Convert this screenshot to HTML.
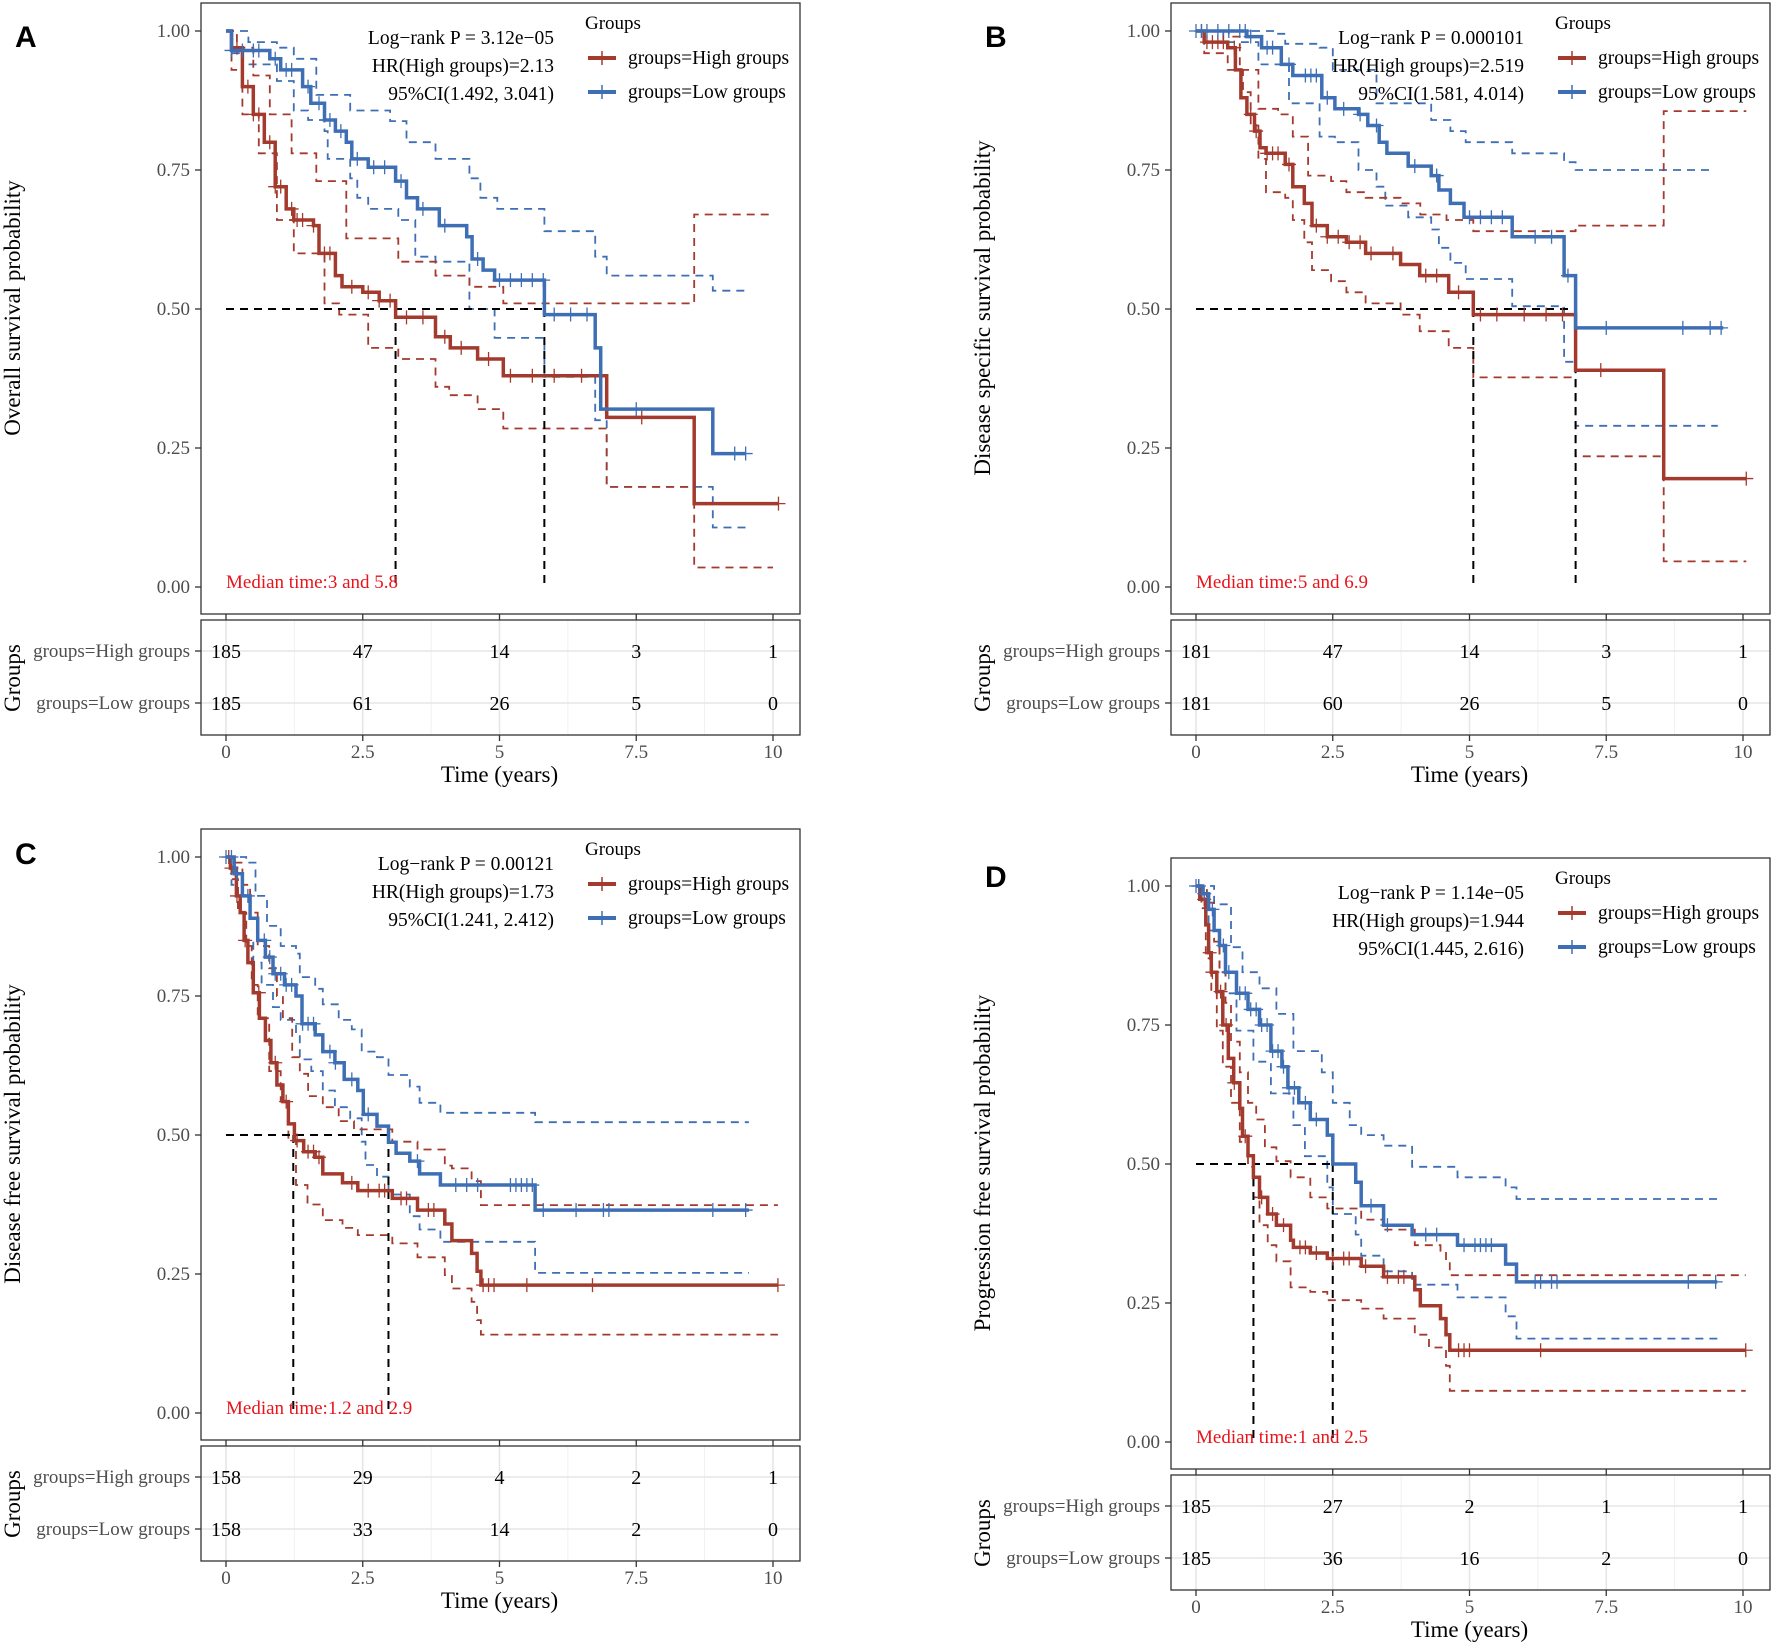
<!DOCTYPE html>
<html><head><meta charset="utf-8"><style>
html,body{margin:0;padding:0;background:#fff;}
svg{display:block;font-family:"Liberation Serif",serif;}
</style></head><body>
<svg id="fig" width="1772" height="1643" viewBox="0 0 1772 1643" xmlns="http://www.w3.org/2000/svg"></svg>
<script>
// ---------- DATA ----------
const xTicks = [0, 2.5, 5, 7.5, 10];
const xTickLabels = ["0", "2.5", "5", "7.5", "10"];
const yTicks = [0, 0.25, 0.5, 0.75, 1];
const yTickLabels = ["0.00", "0.25", "0.50", "0.75", "1.00"];

// Panel A
const aHigh = [[0,1],[0.1,0.97],[0.3,0.9],[0.5,0.85],[0.7,0.8],[0.9,0.72],[1.1,0.68],[1.24,0.66],[1.6,0.65],[1.7,0.6],[2.0,0.56],[2.12,0.54],[2.5,0.53],[2.8,0.515],[3.1,0.485],[3.83,0.45],[4.1,0.43],[4.6,0.41],[5.07,0.38],[6.96,0.305],[8.56,0.15],[10.1,0.15]];
const aHighUp = [[0,1],[0.2,0.97],[0.5,0.92],[0.8,0.85],[1.2,0.78],[1.65,0.73],[2.2,0.627],[3.15,0.585],[3.83,0.56],[4.45,0.54],[5.07,0.51],[8.56,0.67],[10,0.67]];
const aHighLo = [[0,1],[0.1,0.93],[0.3,0.85],[0.6,0.78],[0.93,0.66],[1.24,0.6],[1.8,0.51],[2.07,0.49],[2.6,0.43],[3.15,0.41],[3.83,0.36],[4.08,0.345],[4.6,0.32],[5.07,0.285],[6.96,0.18],[8.56,0.035],[10,0.035]];
const aLow = [[0,1],[0.1,0.965],[0.8,0.95],[1.0,0.93],[1.4,0.9],[1.55,0.87],[1.8,0.84],[2.0,0.82],[2.2,0.8],[2.3,0.77],[2.6,0.755],[3.1,0.73],[3.3,0.7],[3.5,0.68],[3.9,0.65],[4.4,0.63],[4.5,0.59],[4.7,0.57],[4.91,0.552],[5.82,0.49],[6.75,0.43],[6.85,0.32],[8.9,0.24],[9.5,0.24]];
const aLowUp = [[0,1],[0.41,0.98],[0.93,0.97],[1.24,0.95],[1.65,0.885],[2.27,0.857],[3.0,0.838],[3.3,0.8],[3.83,0.77],[4.45,0.735],[4.65,0.7],[4.96,0.68],[5.82,0.64],[6.75,0.594],[6.96,0.56],[8.9,0.533],[9.5,0.533]];
const aLowLo = [[0,1],[0.1,0.96],[0.3,0.94],[0.93,0.91],[1.24,0.857],[1.5,0.84],[1.8,0.82],[1.86,0.77],[2.27,0.735],[2.4,0.7],[2.6,0.68],[3.15,0.66],[3.46,0.594],[3.83,0.585],[4.45,0.5],[4.91,0.448],[5.82,0.378],[6.75,0.3],[6.96,0.18],[8.9,0.107],[9.5,0.107]];
const aHighCens = [0.2,0.4,0.5,0.6,0.8,0.9,1.0,1.2,1.3,1.4,1.6,1.8,1.9,2.3,2.6,2.8,3.0,3.3,3.6,4.0,4.3,4.8,5.2,5.6,6.0,6.5,7.6,10.1];
const aLowCens = [0.1,0.3,0.5,0.6,0.9,1.1,1.2,1.5,1.7,1.9,2.1,2.4,2.7,2.9,3.2,3.6,4.0,4.6,5.0,5.2,5.4,5.6,5.8,6.0,6.3,6.6,7.5,9.3,9.5];
const aHighRisk = [185,47,14,3,1];
const aLowRisk = [185,61,26,5,0];
const aMedians = [3.1, 5.82];

// Panel B
const bHigh = [[0,1],[0.15,0.98],[0.58,0.97],[0.72,0.93],[0.82,0.88],[0.93,0.85],[1.07,0.82],[1.17,0.79],[1.28,0.78],[1.63,0.76],[1.77,0.72],[1.98,0.69],[2.12,0.65],[2.4,0.63],[2.75,0.62],[3.1,0.6],[3.74,0.58],[4.09,0.56],[4.62,0.53],[5.07,0.49],[6.94,0.39],[8.55,0.195],[10.06,0.195]];
const bHighUp = [[0,1],[0.6,0.99],[0.8,0.93],[1.14,0.86],[1.5,0.85],[1.77,0.81],[2.05,0.74],[2.47,0.73],[2.75,0.71],[3.1,0.7],[3.74,0.69],[4.1,0.67],[4.58,0.66],[5.07,0.64],[6.94,0.65],[8.55,0.856],[10.06,0.856]];
const bHighLo = [[0,1],[0.15,0.96],[0.58,0.93],[0.86,0.89],[1.0,0.83],[1.14,0.77],[1.28,0.71],[1.63,0.7],[1.77,0.66],[1.98,0.62],[2.12,0.57],[2.47,0.55],[2.75,0.53],[3.1,0.51],[3.74,0.49],[4.09,0.46],[4.62,0.43],[5.07,0.377],[6.94,0.235],[8.55,0.046],[10.06,0.046]];
const bLow = [[0,1],[0.93,0.99],[1.2,0.97],[1.56,0.94],[1.77,0.92],[2.3,0.88],[2.54,0.86],[2.97,0.85],[3.14,0.83],[3.35,0.8],[3.49,0.78],[3.88,0.757],[4.3,0.74],[4.44,0.714],[4.65,0.69],[4.9,0.665],[5.78,0.63],[6.73,0.56],[6.94,0.466],[9.64,0.466]];
const bLowUp = [[0,1],[1.5,0.995],[1.63,0.977],[2.26,0.97],[2.5,0.93],[3.3,0.87],[4.3,0.84],[4.65,0.82],[4.93,0.8],[5.78,0.78],[6.73,0.764],[6.94,0.75],[9.43,0.75]];
const bLowLo = [[0,1],[0.5,0.98],[1.14,0.94],[1.7,0.87],[2.26,0.81],[2.54,0.8],[2.97,0.75],[3.3,0.72],[3.46,0.686],[3.88,0.665],[4.3,0.643],[4.44,0.61],[4.65,0.583],[4.93,0.554],[5.78,0.505],[6.73,0.405],[6.94,0.29],[9.54,0.29]];
const bHighCens = [0.1,0.2,0.3,0.4,0.5,0.7,1.0,1.1,1.3,1.4,1.5,1.7,2.2,2.4,2.6,2.8,3.0,3.2,3.6,4.2,4.4,4.8,5.2,5.5,6.0,6.4,6.7,7.4,10.06];
const bLowCens = [0.0,0.1,0.2,0.4,0.6,0.8,0.9,1.0,1.3,1.4,1.7,2.0,2.1,2.2,2.4,2.7,3.0,3.3,4.0,4.4,5.0,5.2,5.4,5.6,6.2,6.5,6.8,7.5,8.9,9.4,9.6];
const bHighRisk = [181,47,14,3,1];
const bLowRisk = [181,60,26,5,0];
const bMedians = [5.07, 6.94];

// Panel C
const cHigh = [[0,1],[0.08,0.98],[0.19,0.93],[0.26,0.9],[0.33,0.85],[0.4,0.81],[0.5,0.756],[0.61,0.71],[0.72,0.67],[0.82,0.63],[0.93,0.59],[1.04,0.56],[1.14,0.52],[1.25,0.49],[1.42,0.47],[1.63,0.46],[1.77,0.43],[2.13,0.414],[2.41,0.4],[3.04,0.386],[3.5,0.365],[4.0,0.34],[4.13,0.31],[4.49,0.287],[4.59,0.255],[4.66,0.23],[10.09,0.23]];
const cHighUp = [[0,1],[0.15,0.99],[0.3,0.95],[0.44,0.9],[0.58,0.84],[0.79,0.8],[0.93,0.75],[1.04,0.71],[1.21,0.64],[1.35,0.61],[1.5,0.57],[1.77,0.55],[2.06,0.525],[2.34,0.51],[3.04,0.488],[3.5,0.474],[4.0,0.445],[4.13,0.44],[4.49,0.417],[4.66,0.374],[10.09,0.374]];
const cHighLo = [[0,1],[0.1,0.96],[0.22,0.9],[0.37,0.84],[0.47,0.77],[0.58,0.71],[0.79,0.615],[1.0,0.56],[1.14,0.49],[1.28,0.41],[1.49,0.375],[1.77,0.347],[2.13,0.333],[2.41,0.32],[3.04,0.305],[3.5,0.28],[4.0,0.248],[4.13,0.224],[4.49,0.2],[4.59,0.167],[4.66,0.141],[10.09,0.141]];
const cLow = [[0,1],[0.15,0.97],[0.3,0.93],[0.44,0.89],[0.58,0.85],[0.72,0.82],[0.86,0.79],[1.07,0.77],[1.28,0.75],[1.39,0.7],[1.63,0.68],[1.77,0.65],[1.99,0.63],[2.16,0.6],[2.41,0.58],[2.51,0.537],[2.76,0.516],[2.97,0.487],[3.11,0.467],[3.36,0.453],[3.54,0.43],[3.92,0.41],[5.65,0.365],[9.56,0.365]];
const cLowUp = [[0,1],[0.37,0.99],[0.54,0.93],[0.75,0.876],[1.0,0.84],[1.28,0.826],[1.35,0.784],[1.63,0.763],[1.77,0.735],[2.06,0.707],[2.3,0.69],[2.48,0.65],[2.76,0.64],[2.97,0.608],[3.36,0.587],[3.54,0.558],[3.92,0.54],[5.65,0.523],[9.56,0.523]];
const cLowLo = [[0,1],[0.1,0.95],[0.22,0.9],[0.37,0.85],[0.5,0.81],[0.65,0.77],[0.86,0.73],[1.0,0.707],[1.28,0.68],[1.35,0.636],[1.56,0.615],[1.77,0.58],[1.99,0.55],[2.27,0.53],[2.48,0.488],[2.55,0.446],[2.76,0.425],[2.97,0.393],[3.36,0.354],[3.54,0.33],[3.92,0.308],[5.65,0.252],[9.56,0.252]];
const cHighCens = [0.05,0.1,0.2,0.35,0.6,0.9,1.1,1.3,1.5,1.6,1.7,2.3,2.6,2.8,2.9,3.2,3.3,3.7,3.8,4.7,4.8,4.9,5.5,6.7,10.09];
const cLowCens = [0.0,0.1,0.2,0.4,0.7,0.8,0.9,1.0,1.1,1.2,1.4,1.5,1.6,1.9,2.0,2.3,2.6,3.5,4.2,4.4,4.6,5.2,5.3,5.4,5.5,5.6,5.8,6.4,6.9,7.0,8.9,9.5];
const cHighRisk = [158,29,4,2,1];
const cLowRisk = [158,33,14,2,0];
const cMedians = [1.23, 2.97];

// Panel D
const dHigh = [[0,1],[0.07,0.976],[0.18,0.93],[0.23,0.88],[0.28,0.845],[0.38,0.81],[0.49,0.75],[0.59,0.69],[0.69,0.646],[0.8,0.6],[0.85,0.55],[0.95,0.515],[1.05,0.476],[1.16,0.44],[1.31,0.41],[1.47,0.39],[1.73,0.363],[1.78,0.35],[2.09,0.34],[2.4,0.33],[3.02,0.316],[3.43,0.297],[4.0,0.274],[4.1,0.245],[4.47,0.222],[4.57,0.193],[4.64,0.165],[10.05,0.165]];
const dHighUp = [[0,1],[0.2,0.97],[0.33,0.9],[0.43,0.845],[0.54,0.79],[0.64,0.72],[0.8,0.665],[0.95,0.61],[1.1,0.58],[1.26,0.53],[1.47,0.505],[1.73,0.476],[2.09,0.44],[2.4,0.42],[3.02,0.4],[3.43,0.382],[4.0,0.354],[4.47,0.344],[4.57,0.325],[4.64,0.3],[10.05,0.3]];
const dHighLo = [[0,1],[0.1,0.96],[0.18,0.87],[0.28,0.81],[0.38,0.74],[0.49,0.675],[0.64,0.61],[0.8,0.54],[0.95,0.495],[1.05,0.44],[1.16,0.39],[1.31,0.354],[1.47,0.325],[1.73,0.278],[2.09,0.27],[2.4,0.255],[3.02,0.24],[3.43,0.222],[4.0,0.193],[4.26,0.17],[4.57,0.137],[4.64,0.092],[10.05,0.092]];
const dLow = [[0,1],[0.12,0.986],[0.23,0.958],[0.33,0.92],[0.43,0.893],[0.54,0.845],[0.74,0.807],[0.95,0.778],[1.16,0.75],[1.37,0.703],[1.57,0.675],[1.68,0.637],[1.88,0.61],[2.09,0.58],[2.4,0.552],[2.5,0.5],[2.92,0.467],[3.02,0.425],[3.43,0.39],[3.95,0.373],[4.78,0.354],[5.66,0.32],[5.86,0.288],[9.53,0.288]];
const dLowUp = [[0,1],[0.33,0.967],[0.64,0.89],[0.85,0.845],[1.16,0.816],[1.47,0.77],[1.78,0.703],[2.3,0.665],[2.5,0.61],[2.81,0.57],[3.02,0.552],[3.43,0.533],[3.95,0.495],[4.78,0.476],[5.66,0.458],[5.86,0.437],[9.53,0.437]];
const dLowLo = [[0,1],[0.1,0.97],[0.23,0.92],[0.43,0.845],[0.54,0.807],[0.74,0.74],[1.05,0.684],[1.37,0.627],[1.78,0.57],[1.99,0.514],[2.4,0.458],[2.5,0.41],[2.92,0.373],[3.02,0.335],[3.43,0.307],[3.95,0.283],[4.78,0.26],[5.66,0.226],[5.86,0.186],[9.53,0.186]];
const dHighCens = [0.05,0.15,0.25,0.3,0.45,0.55,0.7,0.9,1.2,1.4,1.6,1.9,2.0,2.2,2.5,2.7,2.8,3.1,3.5,3.7,3.8,4.8,4.9,5.0,6.3,10.05];
const dLowCens = [0.0,0.05,0.15,0.3,0.5,0.6,0.8,0.9,1.0,1.1,1.2,1.3,1.4,1.5,1.6,1.7,1.8,2.0,2.2,3.2,3.5,4.2,4.4,4.9,5.1,5.2,5.3,5.4,6.2,6.3,6.5,6.6,9.0,9.5];
const dHighRisk = [185,27,2,1,1];
const dLowRisk = [185,36,16,2,0];
const dMedians = [1.05, 2.5];

// ---------- RENDER ----------
const NS = "http://www.w3.org/2000/svg";
const svg = document.getElementById("fig");
const RED = "#A33A2D", BLUE = "#3E6FB5";
function mk(tag, attrs, parent, text) {
  const e = document.createElementNS(NS, tag);
  for (const k in attrs) e.setAttribute(k, attrs[k]);
  if (text !== undefined) e.textContent = text;
  (parent || svg).appendChild(e);
  return e;
}
function survAt(curve, t) {
  let s = curve[0][1];
  for (const p of curve) { if (p[0] <= t) s = p[1]; else break; }
  return s;
}
function stepPath(curve, X, Y) {
  let d = "M" + X(curve[0][0]).toFixed(1) + " " + Y(curve[0][1]).toFixed(1);
  for (let i = 1; i < curve.length; i++) {
    d += " H" + X(curve[i][0]).toFixed(1) + " V" + Y(curve[i][1]).toFixed(1);
  }
  return d;
}

function panel(cfg) {
  const ox = cfg.ox, oy = cfg.oy;
  const g = mk("g", {transform: "translate(" + ox + "," + oy + ")"});
  
  
  const X = t => 226 + t * 54.7;
  const Y = s => 587 - s * 556;

  const lbl = mk("text", {x: 15, y: cfg.letterY, "font-family": "Liberation Sans, sans-serif", "font-weight": "bold", "font-size": 30, fill: "#000"}, g, cfg.letter);
  
  

  const box = mk("rect", {x: 201, y: 3, width: 599, height: 611, fill: "#fff", stroke: "#333", "stroke-width": 1.3}, g);
  
  

  yTicks.forEach((v, i) => {
    mk("line", {x1: 195, x2: 201, y1: Y(v), y2: Y(v), stroke: "#333", "stroke-width": 1.3}, g);
    const t = mk("text", {x: 190, y: Y(v) + 6, "text-anchor": "end", "font-size": 19, fill: "#4d4d4d"}, g, yTickLabels[i]);
    
    
  });
  xTicks.forEach(v => mk("line", {x1: X(v), x2: X(v), y1: 614, y2: 620, stroke: "#333", "stroke-width": 1.3}, g));

  const yt = mk("text", {transform: "translate(20,308) rotate(-90)", "text-anchor": "middle", "font-size": 23, fill: "#000"}, g, cfg.ytitle);
  
  

  const curves = mk("g", {}, g);
  [[cfg.lowUp, BLUE], [cfg.lowLo, BLUE], [cfg.highUp, RED], [cfg.highLo, RED]].forEach(([c, col]) => {
    const p = mk("path", {d: stepPath(c, X, Y), fill: "none", stroke: col, "stroke-width": 1.8, "stroke-dasharray": "8,6"}, curves);
    
    
  });
  const m0 = cfg.medians;
  const mh = mk("path", {d: "M" + X(0) + " " + Y(0.5) + " H" + X(Math.max(...m0)), fill: "none", stroke: "#000", "stroke-width": 2, "stroke-dasharray": "8,6"}, curves);
  
  
  m0.forEach(m => {
    const mv = mk("path", {d: "M" + X(m) + " " + Y(0.5) + " V" + Y(0), fill: "none", stroke: "#000", "stroke-width": 2, "stroke-dasharray": "8,6"}, curves);
    
    
  });
  [[cfg.high, cfg.highCens, RED, "high"], [cfg.low, cfg.lowCens, BLUE, "low"]].forEach(([c, cens, col, nm]) => {
    const p = mk("path", {d: stepPath(c, X, Y), fill: "none", stroke: col, "stroke-width": 3.5}, curves);
    
    
    cens.forEach(t => {
      const x = X(t), y = Y(survAt(c, t));
      const cm = mk("path", {d: "M" + (x - 7) + " " + y + " H" + (x + 7) + " M" + x + " " + (y - 7) + " V" + (y + 7), stroke: col, "stroke-width": 1.3, fill: "none"}, curves);
      
      
    });
  });

  const med = mk("text", {x: 226, y: 588, "font-size": 19, fill: "#E8141B"}, g, cfg.medText);
  
  

  cfg.stats.forEach((s, i) => {
    const t = mk("text", {x: 554, y: 44 + i * 28, "text-anchor": "end", "font-size": 19.5, fill: "#000"}, g, s);
    
    
  });

  const lg = mk("g", {}, g);
  
  
  mk("text", {x: 585, y: 29, "font-size": 19, fill: "#000"}, lg, "Groups");
  [["groups=High groups", RED, 58], ["groups=Low groups", BLUE, 92]].forEach(([txt, col, y]) => {
    const e = mk("g", {}, lg);
    
    
    mk("line", {x1: 588, x2: 616, y1: y, y2: y, stroke: col, "stroke-width": 4}, e);
    mk("line", {x1: 602, x2: 602, y1: y - 7, y2: y + 7, stroke: col, "stroke-width": 1.5}, e);
    mk("text", {x: 628, y: y + 6, "font-size": 19.5, fill: "#000"}, e, txt);
  });

  const tb = mk("g", {}, g);
  
  
  mk("rect", {x: 201, y: 620, width: 599, height: 115, fill: "#fff"}, tb);
  [1.25, 3.75, 6.25, 8.75].forEach(v => mk("line", {x1: X(v), x2: X(v), y1: 620, y2: 735, stroke: "#f0f0f0", "stroke-width": 1}, tb));
  xTicks.forEach(v => mk("line", {x1: X(v), x2: X(v), y1: 620, y2: 735, stroke: "#e6e6e6", "stroke-width": 1.6}, tb));
  [651, 703].forEach(y => mk("line", {x1: 201, x2: 800, y1: y, y2: y, stroke: "#e6e6e6", "stroke-width": 1.6}, tb));
  mk("rect", {x: 201, y: 620, width: 599, height: 115, fill: "none", stroke: "#333", "stroke-width": 1.3}, tb);
  [["groups=High groups", cfg.highRisk, 651], ["groups=Low groups", cfg.lowRisk, 703]].forEach(([lab, vals, y]) => {
    mk("line", {x1: 195, x2: 201, y1: y, y2: y, stroke: "#333", "stroke-width": 1.3}, tb);
    const rl = mk("text", {x: 190, y: y + 6, "text-anchor": "end", "font-size": 19, fill: "#4d4d4d"}, tb, lab);
    
    
    vals.forEach((v, i) => {
      const n = mk("text", {x: X(xTicks[i]), y: y + 7, "text-anchor": "middle", "font-size": 20, fill: "#000"}, tb, String(v));
      
      
    });
  });
  xTicks.forEach((v, i) => {
    mk("line", {x1: X(v), x2: X(v), y1: 735, y2: 741, stroke: "#333", "stroke-width": 1.3}, tb);
    const t = mk("text", {x: X(v), y: 758, "text-anchor": "middle", "font-size": 19, fill: "#4d4d4d"}, tb, xTickLabels[i]);
    
    
  });
  const gt = mk("text", {transform: "translate(20,678) rotate(-90)", "text-anchor": "middle", "font-size": 23, fill: "#000"}, tb, "Groups");
  
  
  const xt = mk("text", {x: X(5), y: 782, "text-anchor": "middle", "font-size": 23, fill: "#000"}, g, "Time (years)");
  
  
}

panel({letter: "A", ox: 0, oy: 0, letterY: 47, ytitle: "Overall survival probability",
  high: aHigh, highUp: aHighUp, highLo: aHighLo, low: aLow, lowUp: aLowUp, lowLo: aLowLo,
  highCens: aHighCens, lowCens: aLowCens, highRisk: aHighRisk, lowRisk: aLowRisk, medians: aMedians,
  medText: "Median time:3 and 5.8", stats: ["Log\u2212rank P = 3.12e\u221205", "HR(High groups)=2.13", "95%CI(1.492, 3.041)"]});
panel({letter: "B", ox: 970, oy: 0, letterY: 47, ytitle: "Disease  specific survival probability",
  high: bHigh, highUp: bHighUp, highLo: bHighLo, low: bLow, lowUp: bLowUp, lowLo: bLowLo,
  highCens: bHighCens, lowCens: bLowCens, highRisk: bHighRisk, lowRisk: bLowRisk, medians: bMedians,
  medText: "Median time:5 and 6.9", stats: ["Log\u2212rank P = 0.000101", "HR(High groups)=2.519", "95%CI(1.581, 4.014)"]});
panel({letter: "C", ox: 0, oy: 826, letterY: 38, ytitle: "Disease free survival probability",
  high: cHigh, highUp: cHighUp, highLo: cHighLo, low: cLow, lowUp: cLowUp, lowLo: cLowLo,
  highCens: cHighCens, lowCens: cLowCens, highRisk: cHighRisk, lowRisk: cLowRisk, medians: cMedians,
  medText: "Median time:1.2 and 2.9", stats: ["Log\u2212rank P = 0.00121", "HR(High groups)=1.73", "95%CI(1.241, 2.412)"]});
panel({letter: "D", ox: 970, oy: 855, letterY: 32, ytitle: "Progression free survival probability",
  high: dHigh, highUp: dHighUp, highLo: dHighLo, low: dLow, lowUp: dLowUp, lowLo: dLowLo,
  highCens: dHighCens, lowCens: dLowCens, highRisk: dHighRisk, lowRisk: dLowRisk, medians: dMedians,
  medText: "Median time:1 and 2.5", stats: ["Log\u2212rank P = 1.14e\u221205", "HR(High groups)=1.944", "95%CI(1.445, 2.616)"]});
</script>
</body></html>
